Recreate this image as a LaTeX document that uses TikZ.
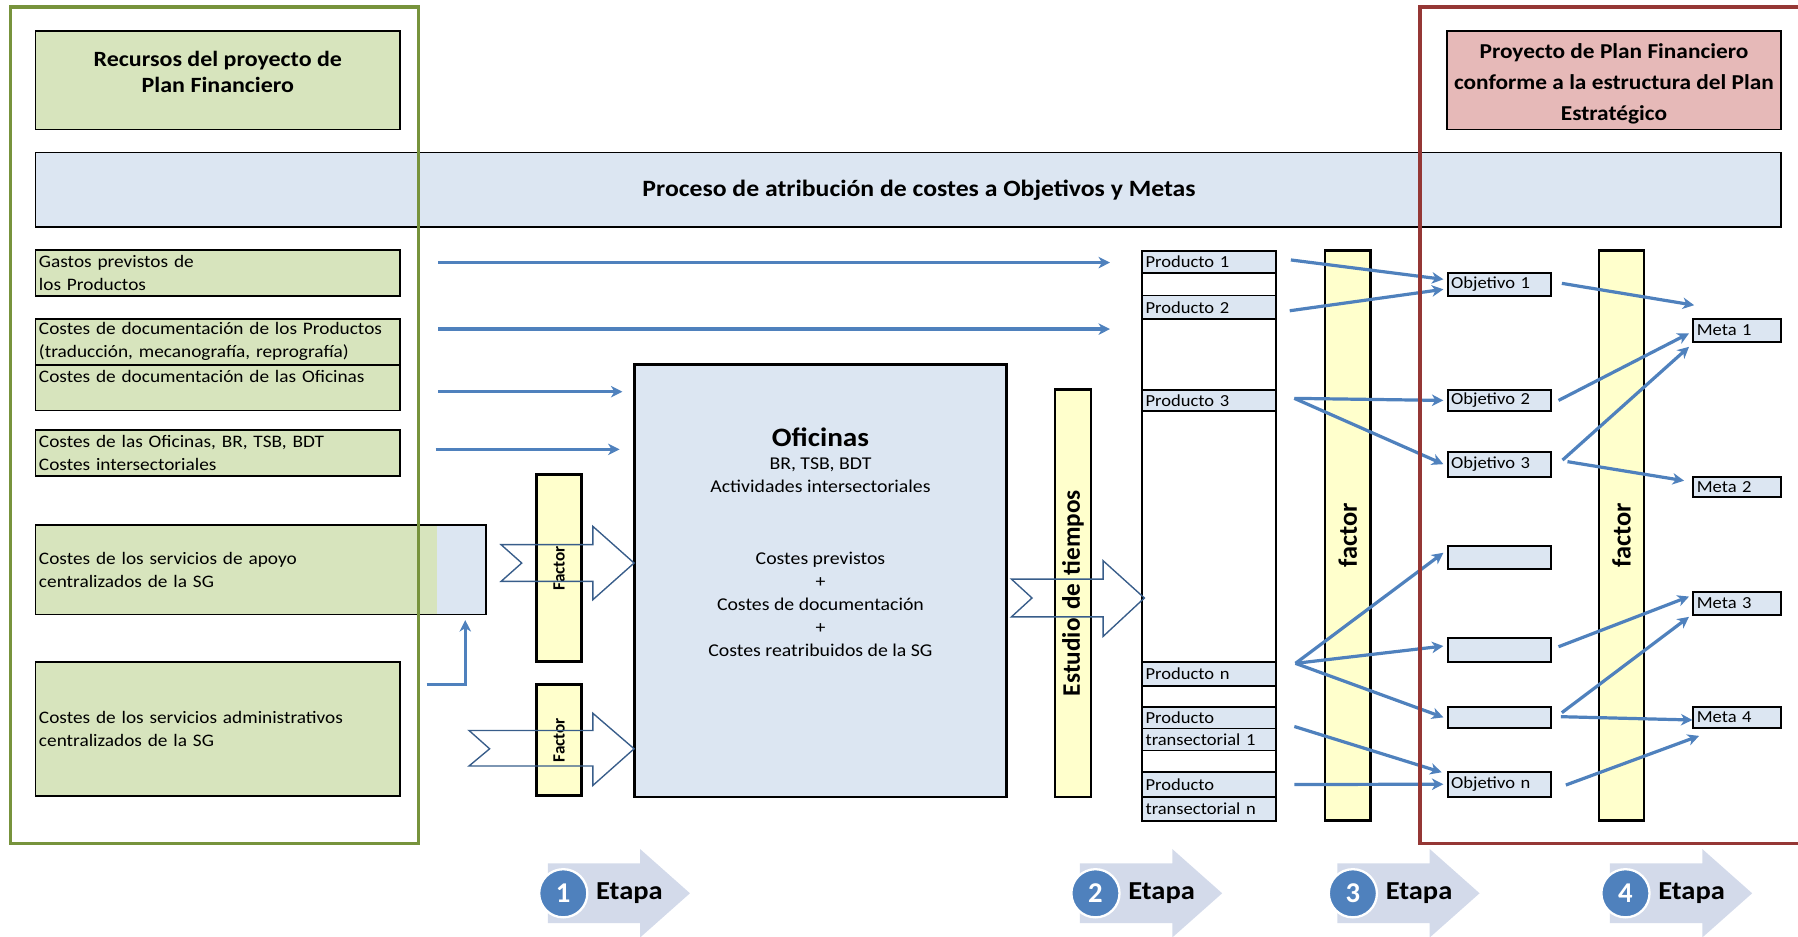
\documentclass[tikz,border=0pt]{standalone}
\usepackage{fontspec}
\setmainfont{Carlito}[FakeStretch=1.1]
\newfontfamily\plainfont{Carlito}
\usetikzlibrary{arrows.meta,calc}
\definecolor{lgreen}{HTML}{D7E4BD}
\definecolor{lblue}{HTML}{DCE6F2}
\definecolor{lyellow}{HTML}{FFFFCC}
\definecolor{lpink}{HTML}{E6B9B8}
\definecolor{frgreen}{HTML}{77933C}
\definecolor{frred}{HTML}{953735}
\definecolor{arblue}{HTML}{4F81BD}
\definecolor{bkblue}{HTML}{385D8A}
\definecolor{etfill}{HTML}{D3DAEA}
\newcommand\fsmall{\fontsize{14.7}{20}\selectfont}
\newcommand\fgreen{\fontsize{15.3}{20}\selectfont}
\newcommand\drawbox[7]{%
  \pgfmathsetmacro\myw{#4-#2}%
  \pgfmathsetmacro\myh{#5-#3}%
  \pgfmathsetmacro\mytw{#4-#2-6}%
  \node[box,#6,minimum width=\myw pt,minimum height=\myh pt,text width=\mytw pt]
    (#1) at ({(#2+#4)/2},{(#3+#5)/2}) {#7};}
\begin{document}
\begin{tikzpicture}[x=1pt,y=-1pt,
  box/.style={draw=black,line width=1.5pt,inner sep=0pt,inner xsep=3pt,align=left,font=\fsmall},
  gbox/.style={fill=lgreen,font=\fgreen},
  cell/.style={fill=lblue},
  blank/.style={fill=white},
  bar/.style={fill=lyellow,line width=2.3pt,align=center},
  conn/.style={draw=arblue,line width=2.8pt,-{Stealth[length=10pt,width=10pt,inset=3pt]}},
  barrow/.style={draw=bkblue,line width=1.2pt,line join=miter},
  titlefont/.style={font=\bfseries\fontsize{19}{23}\selectfont,align=center,inner sep=0pt},
  etcircle/.style={circle,fill=arblue,draw=white,line width=2pt,minimum size=42pt,inner sep=0pt,text=white,font=\plainfont\bfseries\fontsize{25}{25}\selectfont},
  etlabel/.style={font=\bfseries\fontsize{22.6}{23}\selectfont,inner sep=0pt,anchor=west}
]
\useasboundingbox (0,0) rectangle (1568,817);

% ---------- headers
\drawbox{rec}{31}{27}{349}{113}{fill=lgreen}{}
\node[titlefont] (recT) at (190,62.5) {Recursos del proyecto de\\Plan Financiero};
\drawbox{pf}{1262}{27}{1553}{113}{fill=lpink}{}
\node[titlefont,font=\bfseries\fontsize{18.5}{27}\selectfont] (pfT) at (1407.5,73.5) {Proyecto de Plan Financiero\\conforme a la estructura del Plan\\Estratégico};
\drawbox{proc}{31}{133}{1553}{198}{fill=lblue}{}
\node[font=\bfseries\fontsize{20.4}{23}\selectfont,inner sep=0pt] (procT) at (801.5,166) {Proceso de atribución de costes a Objetivos y Metas};

% ---------- left column
\drawbox{g1}{31}{218}{349}{258}{gbox}{Gastos previstos de\\los Productos}
\drawbox{g2}{31}{278}{349}{318}{gbox}{Costes de documentación de los Productos\\(traducción, mecanografía, reprografía)}
\drawbox{g3}{31}{318}{349}{358}{gbox}{Costes de documentación de las Oficinas\\\mbox{}}
\drawbox{g4}{31}{375}{349}{415}{gbox}{Costes de las Oficinas, BR, TSB, BDT\\Costes intersectoriales}
\drawbox{g5}{31}{458}{424}{536}{gbox,fill=lblue,path picture={\fill[lgreen] (path picture bounding box.north west) rectangle ([xshift=-43pt]path picture bounding box.south east);}}{Costes de los servicios de apoyo\\centralizados de la SG}
\drawbox{g6}{31}{577}{349}{694}{gbox}{Costes de los servicios administrativos\\centralizados de la SG}

% ---------- factor bars
\drawbox{f1}{468}{414}{507}{577}{bar,font=\plainfont\bfseries\fontsize{15}{15}\selectfont}{\rotatebox{90}{Factor}}
\drawbox{f2}{468}{597}{507}{694}{bar,font=\plainfont\bfseries\fontsize{15}{15}\selectfont}{\rotatebox{90}{Factor}}

% ---------- oficinas
\drawbox{of}{553}{318}{878}{695}{fill=lblue,line width=2.4pt}{}
\node[font=\bfseries\fontsize{23.2}{23}\selectfont,inner sep=0pt] (ofT) at (715.5,381) {Oficinas};
\node[font=\fontsize{15.7}{19.5}\selectfont,align=center,inner sep=0pt] (ofS) at (715.5,414.5) {BR, TSB, BDT\\Actividades intersectoriales};
\node[font=\fontsize{15.7}{20}\selectfont,align=center,inner sep=0pt] (ofC) at (715.5,527) {Costes previstos\\+\\Costes de documentación\\+\\Costes reatribuidos de la SG};

% ---------- estudio de tiempos
\drawbox{est}{920}{339.5}{951.5}{695}{bar,font=\plainfont\bfseries\fontsize{22}{22}\selectfont}{\rotatebox{90}{Estudio de tiempos}}

% ---------- productos column
\drawbox{p1}{996}{218.6}{1113}{237.8}{cell}{Producto 1}
\drawbox{pb1}{996}{237.8}{1113}{257.8}{blank}{}
\drawbox{p2}{996}{257.8}{1113}{278.2}{cell}{Producto 2}
\drawbox{pb2}{996}{278.2}{1113}{340}{blank}{}
\drawbox{p3}{996}{340}{1113}{358.4}{cell}{Producto 3}
\drawbox{pb3}{996}{358.4}{1113}{577}{blank}{}
\drawbox{pn}{996}{577}{1113}{598}{cell}{Producto n}
\drawbox{pb4}{996}{598}{1113}{616.3}{blank}{}
\drawbox{t1a}{996}{616.3}{1113}{635.2}{cell}{Producto}
\drawbox{t1b}{996}{635.2}{1113}{654.6}{cell}{transectorial 1}
\drawbox{pb5}{996}{654.6}{1113}{673.5}{blank}{}
\drawbox{tna}{996}{673.5}{1113}{694.8}{cell}{Producto}
\drawbox{tnb}{996}{694.8}{1113}{715.7}{cell}{transectorial n}

% ---------- factor bars 3 and 4
\drawbox{f3}{1155.5}{218.6}{1195.3}{715.5}{bar,font=\plainfont\bfseries\fontsize{23}{23}\selectfont}{\rotatebox{90}{factor}}
\drawbox{f4}{1394.5}{218.6}{1433.7}{715.5}{bar,font=\plainfont\bfseries\fontsize{23}{23}\selectfont}{\rotatebox{90}{factor}}

% ---------- objetivos
\drawbox{o1}{1262.5}{237.8}{1352.6}{258.2}{cell}{Objetivo 1}
\drawbox{o2}{1262.5}{340}{1352.6}{358.4}{cell}{Objetivo 2}
\drawbox{o3}{1262.5}{393.9}{1352.6}{415.7}{cell}{Objetivo 3}
\drawbox{o4}{1262.5}{475.9}{1352.6}{496.2}{cell}{}
\drawbox{o5}{1262.5}{556.1}{1352.6}{577.3}{cell}{}
\drawbox{o6}{1262.5}{616.3}{1352.6}{634.9}{cell}{}
\drawbox{on}{1262.5}{673}{1352.6}{694.8}{cell}{Objetivo n}

% ---------- metas
\drawbox{m1}{1476.7}{278.2}{1553.2}{298}{cell}{Meta 1}
\drawbox{m2}{1476.7}{415.7}{1553.2}{433.7}{cell}{Meta 2}
\drawbox{m3}{1476.7}{516}{1553.2}{536.3}{cell}{Meta 3}
\drawbox{m4}{1476.7}{616.3}{1553.2}{634.9}{cell}{Meta 4}

% ---------- block arrows
\draw[barrow] (437,475) -- (517,475) -- (517,459) -- (553,491) -- (517,523) -- (517,507) -- (437,507) -- (455,491) -- cycle;
\draw[barrow] (409,637) -- (517,637) -- (517,622) -- (553,653) -- (517,685) -- (517,668) -- (409,668) -- (427,653) -- cycle;
\draw[barrow] (882,505) -- (962,505) -- (962,489) -- (998,521.5) -- (962,555) -- (962,538) -- (882,538) -- (900,521.5) -- cycle;

% ---------- left connectors
\coordinate (s1) at (382,229);
\coordinate (e1) at (968,229);
\coordinate (s2) at (382,287);
\coordinate (e2) at (968,287);
\coordinate (s3) at (382,341.6);
\coordinate (s4) at (380,391.9);
\coordinate (s5) at (372,597);
\draw[conn] (s1) -- (e1);
\draw[conn] (s2) -- (e2);
\draw[conn] (s3) -- ($(s3 -| of.west)+(-9,0)$);
\draw[conn] (s4) -- ($(s4 -| of.west)+(-11.5,0)$);
\draw[conn] (s5) -| ([xshift=-19pt,yshift=-4pt]g5.south east);

% ---------- product -> objetivo connectors
\draw[conn] ([xshift=12pt,yshift=1.5pt]p1.east) -- ([xshift=-3pt,yshift=4.4pt]o1.west);
\draw[conn] ([xshift=11pt,yshift=-3pt]p2.east) -- ([xshift=-3pt,yshift=-4.3pt]o1.west);
\draw[conn] ([xshift=15pt,yshift=1.8pt]p3.east) -- ([xshift=-3pt]o2.west);
\draw[conn] ([xshift=15pt,yshift=1.8pt]p3.east) -- ([xshift=-3pt]o3.west);
\draw[conn] ([xshift=16pt,yshift=9pt]pn.east) -- ([xshift=-3pt,yshift=4pt]o4.west);
\draw[conn] ([xshift=16pt,yshift=9pt]pn.east) -- ([xshift=-3pt,yshift=3.3pt]o5.west);
\draw[conn] ([xshift=16pt,yshift=9pt]pn.east) -- ([xshift=-3pt]o6.west);
\draw[conn] ([xshift=15pt,yshift=2.4pt]t1a.south east) -- ([xshift=-4.5pt,yshift=10.4pt]on.west);
\draw[conn] ([xshift=15pt]tna.east) -- ([xshift=-3pt]on.west);

% ---------- objetivo -> meta connectors
\draw[conn] ([xshift=8.7pt,yshift=0.9pt]o1.east) -- ([xshift=1.5pt,yshift=11.3pt]m1.north west);
\draw[conn] ([xshift=5.8pt]o2.east) -- ([xshift=-3pt,yshift=-2.6pt]m1.west);
\draw[conn] ([xshift=9.3pt,yshift=3.6pt]o3.east) -- ([xshift=-3pt,yshift=-3.7pt]m1.south west);
\draw[conn] ([xshift=13.6pt,yshift=2.2pt]o3.east) -- ([xshift=-7.3pt,yshift=5.5pt]m2.west);
\draw[conn] ([xshift=5.8pt,yshift=2.7pt]o5.east) -- ([xshift=-3pt,yshift=5.9pt]m3.west);
\draw[conn] ([xshift=8.7pt,yshift=4.1pt]o6.east) -- ([xshift=-3pt,yshift=-0.9pt]m3.south west);
\draw[conn] ([xshift=7.8pt,yshift=0.6pt]o6.east) -- ([yshift=-2.3pt]m4.west);
\draw[conn] ([xshift=12.2pt,yshift=-0.7pt]on.east) -- ([xshift=5.8pt,yshift=-6.1pt]m4.south west);

% ---------- frames
\draw[frgreen,line width=3pt] (9,6) rectangle (365,735.5);
\draw[frred,line width=3pt] (1238.4,6) rectangle (1580,735.5);

% ---------- etapas
\foreach \x/\n in {477.7/1,941.8/2,1166.3/3,1404/4}{
  \fill[etfill] (\x,753) -- (\x+80.5,753) -- (\x+80.5,740.4) -- (\x+124,779) -- (\x+80.5,817.6) -- (\x+80.5,805) -- (\x,805) -- cycle;
  \node[etcircle] (c\n) at (\x+13.5,779) {\n};
  \node[etlabel] (t\n) at (\x+42,779) {Etapa};
}
\end{tikzpicture}
\end{document}
